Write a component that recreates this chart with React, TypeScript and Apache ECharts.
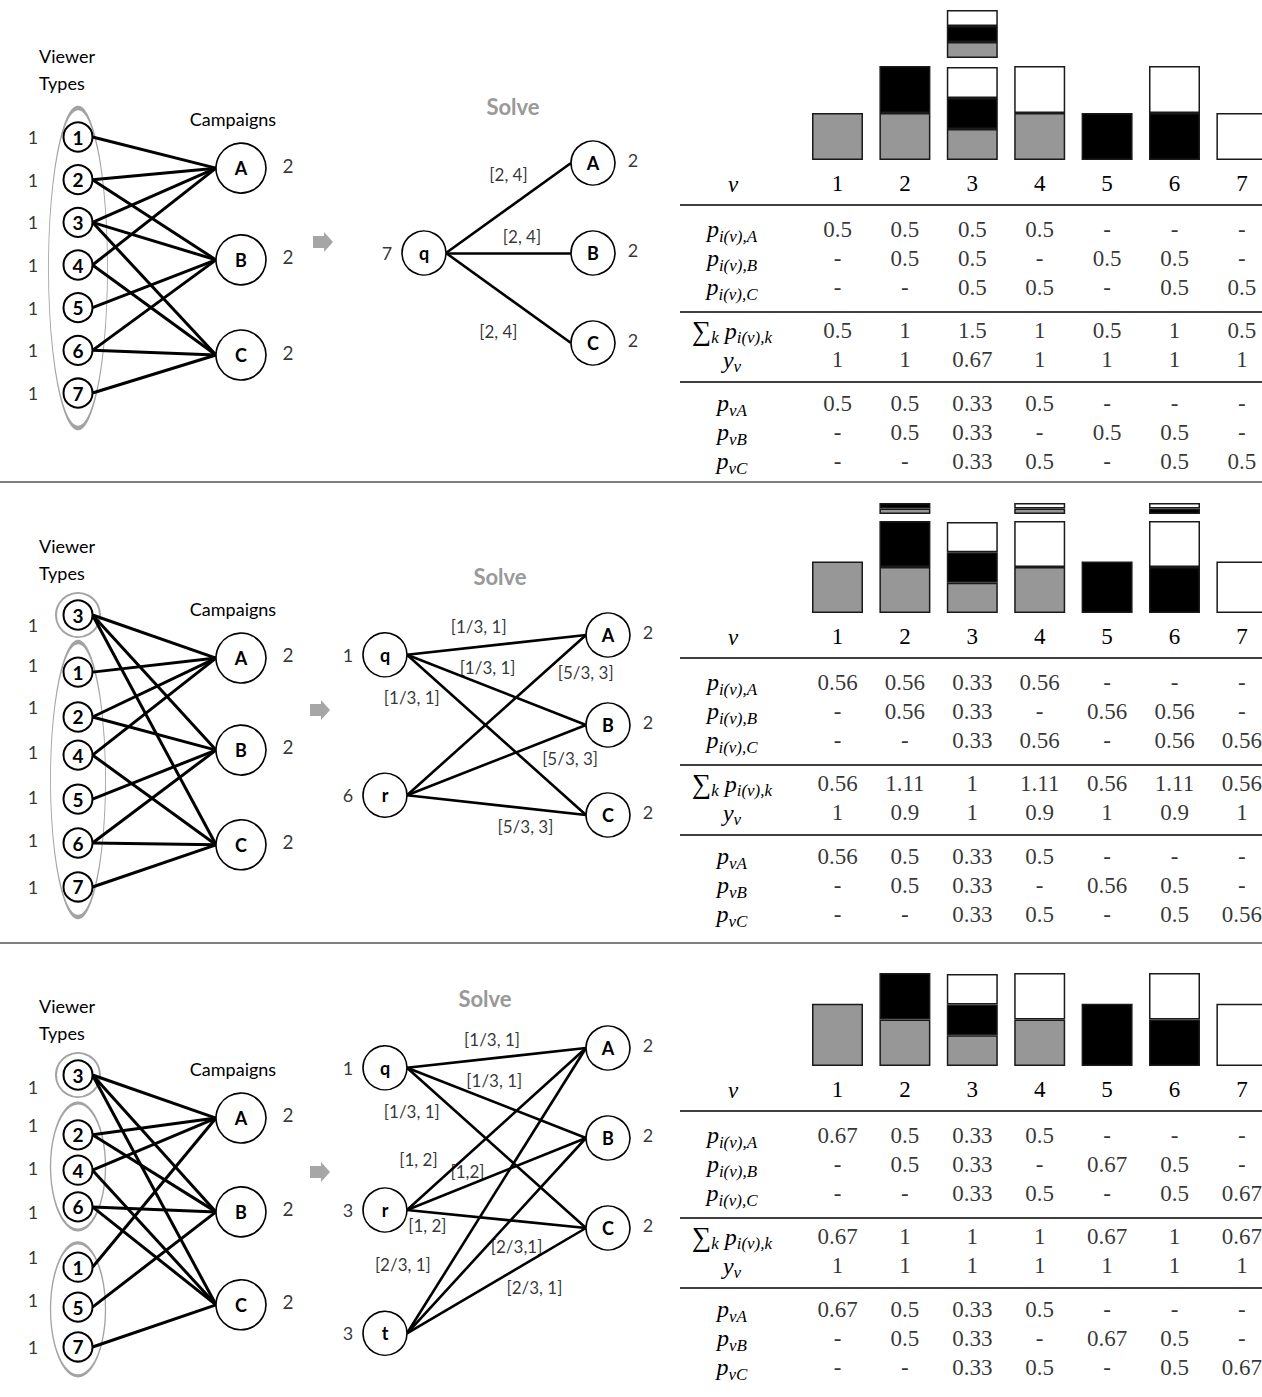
import React, { useEffect, useRef } from 'react';
import * as echarts from 'echarts';

// ---------------- DATA ----------------
const COLUMNS = ['1', '2', '3', '4', '5', '6', '7'];
const CAMPAIGNS = ['A', 'B', 'C'];
const VIEWER_WEIGHTS = ['1', '1', '1', '1', '1', '1', '1'];
const CAMPAIGN_CAPACITY = ['2', '2', '2'];
// campaigns reachable from viewer types 1..7
const VIEWER_EDGES = [['A'], ['A', 'B'], ['A', 'B', 'C'], ['A', 'C'], ['B'], ['B', 'C'], ['C']];

const P1_ORDER = [1, 2, 3, 4, 5, 6, 7];
const P2_ORDER = [3, 1, 2, 4, 5, 6, 7];
const P3_ORDER = [3, 2, 4, 6, 1, 5, 7];
const P1_GROUPS = [[1, 2, 3, 4, 5, 6, 7]];
const P2_GROUPS = [[3], [1, 2, 4, 5, 6, 7]];
const P3_GROUPS = [[3], [2, 4, 6], [1, 5, 7]];

const P1_TYPES = ['q'];
const P1_TYPE_WEIGHTS = ['7'];
const P1_LINKS = [['q', 'A'], ['q', 'B'], ['q', 'C']];
const P1_LINK_LABELS = ['[2, 4]', '[2, 4]', '[2, 4]'];
const P2_TYPES = ['q', 'r'];
const P2_TYPE_WEIGHTS = ['1', '6'];
const P2_LINKS = [['q', 'A'], ['q', 'B'], ['q', 'C'], ['r', 'A'], ['r', 'B'], ['r', 'C']];
const P2_LINK_LABELS = ['[1/3, 1]', '[1/3, 1]', '[1/3, 1]', '[5/3, 3]', '[5/3, 3]', '[5/3, 3]'];
const P3_TYPES = ['q', 'r', 't'];
const P3_TYPE_WEIGHTS = ['1', '3', '3'];
const P3_LINKS = [['q', 'A'], ['q', 'B'], ['q', 'C'], ['r', 'A'], ['r', 'B'], ['r', 'C'], ['t', 'A'], ['t', 'B'], ['t', 'C']];
const P3_LINK_LABELS = ['[1/3, 1]', '[1/3, 1]', '[1/3, 1]', '[1, 2]', '[1,2]', '[1, 2]', '[2/3, 1]', '[2/3,1]', '[2/3, 1]'];

const P1_PI_A = ['0.5', '0.5', '0.5', '0.5', '-', '-', '-'];
const P1_PI_B = ['-', '0.5', '0.5', '-', '0.5', '0.5', '-'];
const P1_PI_C = ['-', '-', '0.5', '0.5', '-', '0.5', '0.5'];
const P1_SUM = ['0.5', '1', '1.5', '1', '0.5', '1', '0.5'];
const P1_Y = ['1', '1', '0.67', '1', '1', '1', '1'];
const P1_PV_A = ['0.5', '0.5', '0.33', '0.5', '-', '-', '-'];
const P1_PV_B = ['-', '0.5', '0.33', '-', '0.5', '0.5', '-'];
const P1_PV_C = ['-', '-', '0.33', '0.5', '-', '0.5', '0.5'];

const P2_PI_A = ['0.56', '0.56', '0.33', '0.56', '-', '-', '-'];
const P2_PI_B = ['-', '0.56', '0.33', '-', '0.56', '0.56', '-'];
const P2_PI_C = ['-', '-', '0.33', '0.56', '-', '0.56', '0.56'];
const P2_SUM = ['0.56', '1.11', '1', '1.11', '0.56', '1.11', '0.56'];
const P2_Y = ['1', '0.9', '1', '0.9', '1', '0.9', '1'];
const P2_PV_A = ['0.56', '0.5', '0.33', '0.5', '-', '-', '-'];
const P2_PV_B = ['-', '0.5', '0.33', '-', '0.56', '0.5', '-'];
const P2_PV_C = ['-', '-', '0.33', '0.5', '-', '0.5', '0.56'];

const P3_PI_A = ['0.67', '0.5', '0.33', '0.5', '-', '-', '-'];
const P3_PI_B = ['-', '0.5', '0.33', '-', '0.67', '0.5', '-'];
const P3_PI_C = ['-', '-', '0.33', '0.5', '-', '0.5', '0.67'];
const P3_SUM = ['0.67', '1', '1', '1', '0.67', '1', '0.67'];
const P3_Y = ['1', '1', '1', '1', '1', '1', '1'];
const P3_PV_A = ['0.67', '0.5', '0.33', '0.5', '-', '-', '-'];
const P3_PV_B = ['-', '0.5', '0.33', '-', '0.67', '0.5', '-'];
const P3_PV_C = ['-', '-', '0.33', '0.5', '-', '0.5', '0.67'];

const ROW_LABELS = [
  '{m|p}{s|i(v),A}',
  '{m|p}{s|i(v),B}',
  '{m|p}{s|i(v),C}',
  '{sum|∑}{s|k}{m| p}{s|i(v),k}',
  '{m|y}{s|v}',
  '{m|p}{s|vA}',
  '{m|p}{s|vB}',
  '{m|p}{s|vC}',
];

// ---------------- LAYOUT / STYLE ----------------
const SANS = 'Lato, "Open Sans", "Noto Sans", sans-serif';
const SERIF = '"Liberation Serif", "DejaVu Serif", serif';
const GRAY = '#979797';
const LEFT_X0 = 78;
const LEFT_X1 = 241;
const VR = 14.5;
const CR = 25;
const MR = 22;

const LEFT_LAYOUT = [
  { top: 137, step: 42.67, rows: [0, 1, 2, 3, 4, 5, 6], weightRows: [0, 1, 2, 3, 4, 5, 6], campaignRows: [0.73, 2.88, 5.11],
    shapes: [{ row: 3.07, w: 59, h: 320 }], titleY: 56, campaignsY: 119 },
  { top: 615, step: 45.33, rows: [0, 1.26, 2.25, 3.09, 4.06, 5.03, 6], weightRows: [0.22, 1.1, 2.03, 3.02, 4.01, 4.96, 6], campaignRows: [0.95, 2.98, 5.07],
    shapes: [{ row: 0, w: 44, h: 44 }, { row: 3.63, w: 55, h: 275 }], titleY: 546, campaignsY: 609 },
  { top: 1075, step: 45.33, rows: [0, 1.32, 2.1, 2.91, 4.24, 5.12, 6], weightRows: [0.26, 1.1, 2.05, 3.02, 4.01, 4.96, 6], campaignRows: [0.95, 3.02, 5.07],
    shapes: [{ row: 0, w: 44, h: 44 }, { row: 2.02, w: 55, h: 127 }, { row: 5.17, w: 55, h: 133 }], titleY: 1006, campaignsY: 1069 },
];

const MID_CAMPAIGN_SLOTS = [0, 1, 2];
const MID_LAYOUT = [
  { x0: 424, x1: 593, top: 163, step: 90, slots: [1.0], labelPos: [[0.5, 0.13], [0.58, 0.82], [0.44, 1.87]], solve: [513, 106], arrow: [323, 242] },
  { x0: 385, x1: 608, top: 635, step: 90, slots: [0.22, 1.78],
    labelPos: [[0.42, -0.09], [0.46, 0.36], [0.12, 0.69], [0.9, 0.42], [0.83, 1.37], [0.63, 2.13]], solve: [500, 576], arrow: [320, 710] },
  { x0: 385, x1: 608, top: 1048, step: 90, slots: [0.22, 1.8, 3.17],
    labelPos: [[0.48, -0.09], [0.49, 0.36], [0.12, 0.71], [0.15, 1.24], [0.37, 1.37], [0.19, 1.97], [0.08, 2.41], [0.59, 2.21], [0.67, 2.66]],
    solve: [485, 998], arrow: [320, 1172] },
];

const BAR_LEFT = 803.8;
const BAR_SPAN = 471.8;
const RIGHT_LAYOUT = [
  { bottom: 160, unit: 94, ymax: 1.7, gap: 0.095 },
  { bottom: 613, unit: 92, ymax: 1.25, gap: 0.076 },
  { bottom: 1066, unit: 93, ymax: 1.1, gap: 0.08 },
];
const TABLE_ROW_POS = [0, 1, 2, 3.5, 4.5, 6, 7, 8];
const TABLE_ROW_STEP = 29;
const TABLE_TOP_OFFSET = 69;
const RULE_OFFSETS = [45, 152, 222];
const SEPARATORS = [482, 943];

function buildOption() {
  const grids: any[] = [];
  const xAxes: any[] = [];
  const yAxes: any[] = [];
  const series: any[] = [];
  const graphics: any[] = [];

  const addGrid = (grid: any, xAxis: any, yAxis: any) => {
    grids.push({ ...grid, containLabel: false, outerBoundsMode: 'none' });
    const gi = grids.length - 1;
    xAxes.push({ ...xAxis, gridIndex: gi });
    yAxes.push({ ...yAxis, gridIndex: gi });
    return gi;
  };

  const labelOnly = (fontSize: number, bold = false, family = SANS) => ({
    type: 'scatter', symbol: 'circle', symbolSize: 1, itemStyle: { color: 'rgba(0,0,0,0)' }, z: 5,
    label: { show: true, position: 'inside', formatter: '{b}', fontFamily: family, fontSize, fontWeight: bold ? 'bold' : 'normal', color: '#000' },
  });

  // ---------- left diagrams ----------
  const buildLeft = (L: any, order: number[], groups: number[][]) => {
    const W = LEFT_X1 - LEFT_X0;
    const gi = addGrid(
      { left: LEFT_X0, top: L.top, width: W, height: 6 * L.step },
      { type: 'value', min: 0, max: 1, show: false },
      { type: 'value', min: 0, max: 6, inverse: true, show: false },
    );
    const base = { xAxisIndex: gi, yAxisIndex: gi, clip: false, silent: true };
    const rowOf = (v: number) => L.rows[order.indexOf(v)];
    series.push({
      ...base, type: 'scatter', z: 1, symbol: 'circle',
      data: groups.map((g, k) => ({ name: g.join(','), value: [0, L.shapes[k].row], symbolSize: [L.shapes[k].w, L.shapes[k].h] })),
      itemStyle: { color: 'rgba(0,0,0,0)', borderColor: '#8c8c8c', borderWidth: 2 },
    });
    const edges: any[] = [];
    order.forEach((v) => {
      VIEWER_EDGES[v - 1].forEach((c) => {
        edges.push({ coords: [[VR / W, rowOf(v)], [1 - CR / W, L.campaignRows[CAMPAIGNS.indexOf(c)]]] });
      });
    });
    series.push({ ...base, type: 'lines', coordinateSystem: 'cartesian2d', z: 2, data: edges, lineStyle: { color: '#000', width: 3, opacity: 1, curveness: 0 } });
    series.push({
      ...base, type: 'scatter', z: 3, symbol: 'circle', symbolSize: 2 * VR,
      data: order.map((v, i) => ({ name: String(v), value: [0, L.rows[i]] })),
      itemStyle: { color: '#fff', borderColor: '#000', borderWidth: 2, opacity: 1 },
      label: { show: true, position: 'inside', formatter: '{b}', fontFamily: SANS, fontWeight: 'bold', fontSize: 19, color: '#000' },
    });
    series.push({
      ...base, type: 'scatter', z: 3, symbol: 'circle', symbolSize: 2 * CR,
      data: CAMPAIGNS.map((c, i) => ({ name: c, value: [1, L.campaignRows[i]] })),
      itemStyle: { color: '#fff', borderColor: '#000', borderWidth: 1.6, opacity: 1 },
      label: { show: true, position: 'inside', formatter: '{b}', fontFamily: SANS, fontWeight: 'bold', fontSize: 18, color: '#000' },
    });
    series.push({ ...base, ...labelOnly(18), data: VIEWER_WEIGHTS.map((w, i) => ({ name: w, value: [-45 / W, L.weightRows[i]] })) });
    series.push({ ...base, ...labelOnly(19), data: CAMPAIGN_CAPACITY.map((w, i) => ({ name: w, value: [1 + 47 / W, L.campaignRows[i] - 0.07] })) });

    graphics.push({ type: 'text', x: 39, y: L.titleY, style: { text: 'Viewer', fontFamily: SANS, fontSize: 18, fill: '#000', align: 'left', verticalAlign: 'middle' } });
    graphics.push({ type: 'text', x: 39, y: L.titleY + 27, style: { text: 'Types', fontFamily: SANS, fontSize: 18, fill: '#000', align: 'left', verticalAlign: 'middle' } });
    graphics.push({ type: 'text', x: 233, y: L.campaignsY, style: { text: 'Campaigns', fontFamily: SANS, fontSize: 18, fill: '#000', align: 'center', verticalAlign: 'middle' } });
  };

  // ---------- middle diagrams ----------
  const buildMid = (M: any, types: string[], weights: string[], links: string[][], linkLabels: string[]) => {
    const W = M.x1 - M.x0;
    const gi = addGrid(
      { left: M.x0, top: M.top, width: W, height: 4 * M.step },
      { type: 'value', min: 0, max: 1, show: false },
      { type: 'value', min: 0, max: 4, inverse: true, show: false },
    );
    const base = { xAxisIndex: gi, yAxisIndex: gi, clip: false, silent: true };
    const slot = (n: string) => (types.includes(n) ? M.slots[types.indexOf(n)] : MID_CAMPAIGN_SLOTS[CAMPAIGNS.indexOf(n)]);
    series.push({
      ...base, type: 'lines', coordinateSystem: 'cartesian2d', z: 2,
      data: links.map(([a, b]) => ({ coords: [[MR / W, slot(a)], [1 - MR / W, slot(b)]] })),
      lineStyle: { color: '#000', width: 2.6, opacity: 1, curveness: 0 },
    });
    series.push({
      ...base, type: 'scatter', z: 3, symbol: 'circle', symbolSize: 2 * MR,
      data: [
        ...types.map((t) => ({ name: t, value: [0, slot(t)] })),
        ...CAMPAIGNS.map((c) => ({ name: c, value: [1, slot(c)] })),
      ],
      itemStyle: { color: '#fff', borderColor: '#000', borderWidth: 1.6, opacity: 1 },
      label: { show: true, position: 'inside', formatter: '{b}', fontFamily: SANS, fontWeight: 'bold', fontSize: 18, color: '#000' },
    });
    series.push({ ...base, ...labelOnly(18), data: weights.map((w, i) => ({ name: w, value: [-37 / W, M.slots[i]] })) });
    series.push({ ...base, ...labelOnly(18), data: CAMPAIGN_CAPACITY.map((w, i) => ({ name: w, value: [1 + 40 / W, MID_CAMPAIGN_SLOTS[i] - 0.03] })) });
    series.push({ ...base, ...labelOnly(17), data: linkLabels.map((s, i) => ({ name: s, value: M.labelPos[i] })) });

    graphics.push({ type: 'text', x: M.solve[0], y: M.solve[1], style: { text: 'Solve', fontFamily: SANS, fontSize: 22, fontWeight: 'bold', fill: '#999', align: 'center', verticalAlign: 'middle' } });
    const [ax, ay] = M.arrow;
    graphics.push({
      type: 'polygon',
      shape: { points: [[ax - 10, ay - 6], [ax + 1, ay - 6], [ax + 1, ay - 10], [ax + 10, ay], [ax + 1, ay + 10], [ax + 1, ay + 6], [ax - 10, ay + 6]] },
      style: { fill: '#a6a6a6' },
    });
  };

  // ---------- right: bars + table ----------
  const buildRight = (R: any, table: string[][]) => {
    const [piA, piB, piC, , , pvA, pvB, pvC] = table;
    const barH = R.ymax * R.unit;
    const gi = addGrid(
      { left: BAR_LEFT, top: R.bottom - barH, width: BAR_SPAN, height: barH },
      {
        type: 'category', data: COLUMNS, axisLine: { show: false }, axisTick: { show: false }, splitLine: { show: false },
        axisLabel: { fontFamily: SERIF, fontSize: 23, color: '#000', margin: 12 },
      },
      { type: 'value', min: 0, max: R.ymax, show: false },
    );
    const num = (s: string) => (s === '-' ? NaN : parseFloat(s));
    const main = [pvA, pvB, pvC].map((arr) => arr.map((s) => (s === '-' ? '-' : num(s))));
    const over = [[piA, pvA], [piB, pvB], [piC, pvC]].map(([pi, pv]) =>
      pi.map((s, i) => {
        const d = num(s) - num(pv[i]);
        return d > 0.001 ? d : '-';
      }),
    );
    const gap = COLUMNS.map((_, i) => (over.some((o) => o[i] !== '-') ? R.gap : '-'));
    const colors = [GRAY, '#000', '#fff'];
    const barBase = { type: 'bar', xAxisIndex: gi, yAxisIndex: gi, stack: 'stk' + gi, barWidth: 51, silent: true, z: 2 };
    main.forEach((d, k) => series.push({ ...barBase, data: d, itemStyle: { color: colors[k], borderColor: '#1a1a1a', borderWidth: 1.5 } }));
    series.push({ ...barBase, data: gap, itemStyle: { color: 'rgba(0,0,0,0)', borderWidth: 0 } });
    over.forEach((d, k) => series.push({ ...barBase, data: d, itemStyle: { color: colors[k], borderColor: '#1a1a1a', borderWidth: 1.5 } }));

    const tTop = R.bottom + TABLE_TOP_OFFSET;
    const ti = addGrid(
      { left: BAR_LEFT, top: tTop, width: BAR_SPAN, height: 8 * TABLE_ROW_STEP },
      { type: 'category', data: COLUMNS, show: false },
      { type: 'value', min: 0, max: 8, inverse: true, show: false },
    );
    series.push({
      xAxisIndex: ti, yAxisIndex: ti, clip: false, silent: true,
      ...labelOnly(23, false, SERIF),
      data: table.flatMap((row, r) => row.map((s, c) => ({ name: s, value: [c, TABLE_ROW_POS[r]] }))),
    });

    graphics.push({ type: 'text', x: 733, y: R.bottom + 24, style: { text: 'v', fontFamily: SERIF, fontStyle: 'italic', fontSize: 23, fill: '#000', align: 'center', verticalAlign: 'middle' } });
    RULE_OFFSETS.forEach((o) => {
      graphics.push({ type: 'line', shape: { x1: 680, y1: R.bottom + o, x2: 1262, y2: R.bottom + o }, style: { stroke: '#000', lineWidth: 1.4 } });
    });
    ROW_LABELS.forEach((t, r) => {
      graphics.push({
        type: 'text', x: 732, y: tTop + TABLE_ROW_POS[r] * TABLE_ROW_STEP,
        style: {
          text: t, align: 'center', verticalAlign: 'middle',
          rich: {
            m: { fontFamily: SERIF, fontSize: 24, fontStyle: 'italic', lineHeight: 31, fill: '#000' },
            s: { fontFamily: SERIF, fontSize: 17, fontStyle: 'italic', lineHeight: 31, verticalAlign: 'bottom', fill: '#000' },
            sum: { fontFamily: SERIF, fontSize: 27, lineHeight: 31, fill: '#000' },
          },
        },
      });
    });
  };

  buildLeft(LEFT_LAYOUT[0], P1_ORDER, P1_GROUPS);
  buildLeft(LEFT_LAYOUT[1], P2_ORDER, P2_GROUPS);
  buildLeft(LEFT_LAYOUT[2], P3_ORDER, P3_GROUPS);
  buildMid(MID_LAYOUT[0], P1_TYPES, P1_TYPE_WEIGHTS, P1_LINKS, P1_LINK_LABELS);
  buildMid(MID_LAYOUT[1], P2_TYPES, P2_TYPE_WEIGHTS, P2_LINKS, P2_LINK_LABELS);
  buildMid(MID_LAYOUT[2], P3_TYPES, P3_TYPE_WEIGHTS, P3_LINKS, P3_LINK_LABELS);
  buildRight(RIGHT_LAYOUT[0], [P1_PI_A, P1_PI_B, P1_PI_C, P1_SUM, P1_Y, P1_PV_A, P1_PV_B, P1_PV_C]);
  buildRight(RIGHT_LAYOUT[1], [P2_PI_A, P2_PI_B, P2_PI_C, P2_SUM, P2_Y, P2_PV_A, P2_PV_B, P2_PV_C]);
  buildRight(RIGHT_LAYOUT[2], [P3_PI_A, P3_PI_B, P3_PI_C, P3_SUM, P3_Y, P3_PV_A, P3_PV_B, P3_PV_C]);

  SEPARATORS.forEach((y) => {
    graphics.push({ type: 'line', shape: { x1: 0, y1: y, x2: 1262, y2: y }, style: { stroke: '#000', lineWidth: 1.2 } });
  });

  return {
    animation: false,
    backgroundColor: '#fff',
    grid: grids,
    xAxis: xAxes,
    yAxis: yAxes,
    series,
    graphic: graphics,
  };
}

export default function App() {
  const ref = useRef<HTMLDivElement>(null);
  useEffect(() => {
    if (!ref.current) return;
    const chart = echarts.init(ref.current, null, { renderer: 'svg' });
    chart.setOption(buildOption() as any);
    return () => chart.dispose();
  }, []);
  return <div ref={ref} style={{ position: 'absolute', left: 0, top: 0, width: 1262, height: 1397, background: '#fff' }} />;
}
